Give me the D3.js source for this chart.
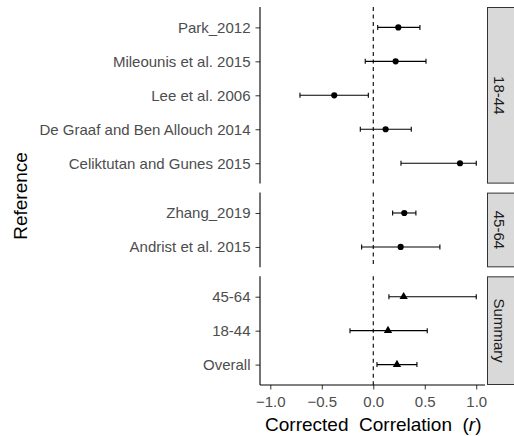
<!DOCTYPE html>
<html>
<head>
<meta charset="utf-8">
<script src="https://cdn.jsdelivr.net/npm/d3@7"></script>
<style>
  body { margin: 0; background: #fff; }
  svg { display: block; font-family: "Liberation Sans", Arial, sans-serif; }
</style>
</head>
<body>
<div id="chart"></div>
<script>
// panels (facet rows), top to bottom
const groups = ['18-44', '45-64', 'Summary'];
const studies = {
  '18-44': ['Park_2012', 'Mileounis et al. 2015', 'Lee et al. 2006', 'De Graaf and Ben Allouch 2014', 'Celiktutan and Gunes 2015'],
  '45-64': ['Zhang_2019', 'Andrist et al. 2015'],
  'Summary': ['45-64', '18-44', 'Overall']
};
const estimates = {
  '18-44': [0.243, 0.217, -0.379, 0.12, 0.842],
  '45-64': [0.301, 0.266],
  'Summary': [0.295, 0.143, 0.23]
};
const lower = {
  '18-44': [0.043, -0.078, -0.712, -0.126, 0.269],
  '45-64': [0.188, -0.113],
  'Summary': [0.152, -0.226, 0.036]
};
const upper = {
  '18-44': [0.453, 0.512, -0.048, 0.369, 1.0],
  '45-64': [0.414, 0.647],
  'Summary': [1.0, 0.524, 0.424]
};
const xTicks = [-1.0, -0.5, 0.0, 0.5, 1.0];

const W = 514, H = 436;
const M = { t: 7, r: 29, b: 51, l: 260 };
const gap = 9;
const svg = d3.select('#chart').append('svg').attr('width', W).attr('height', H);

const x = d3.scaleLinear().domain([-1.1, 1.085]).range([M.l, W - M.r]);
const pad = 0.6;
const units = groups.map(g => studies[g].length - 1 + 2 * pad);
const unitPx = (H - M.t - M.b - gap * (groups.length - 1)) / d3.sum(units);

let py = M.t;
groups.forEach((g, gi) => {
  const h = units[gi] * unitPx;
  const y = d3.scalePoint().domain(studies[g]).range([py, py + h]).padding(pad);
  const rows = studies[g].map((s, i) => ({ s, est: estimates[g][i], lo: lower[g][i], hi: upper[g][i] }));
  const pg = svg.append('g');

  // zero reference line
  pg.append('line').attr('x1', x(0)).attr('x2', x(0)).attr('y1', py).attr('y2', py + h)
    .attr('stroke', '#000').attr('stroke-width', 1.1).attr('stroke-dasharray', '4,3.5');

  // error bars
  const eb = pg.append('g').attr('stroke', '#000').attr('stroke-width', 1.1);
  eb.selectAll('.h').data(rows).enter().append('line')
    .attr('x1', d => x(d.lo)).attr('x2', d => x(d.hi)).attr('y1', d => y(d.s)).attr('y2', d => y(d.s));
  ['lo', 'hi'].forEach(k => {
    eb.selectAll('.c' + k).data(rows).enter().append('line')
      .attr('x1', d => x(d[k])).attr('x2', d => x(d[k])).attr('y1', d => y(d.s) - 2.5).attr('y2', d => y(d.s) + 2.5);
  });

  // points: circles for studies, triangles for summary
  const sym = d3.symbol().type(g === 'Summary' ? d3.symbolTriangle : d3.symbolCircle).size(g === 'Summary' ? 30 : 30);
  pg.selectAll('path.pt').data(rows).enter().append('path')
    .attr('transform', d => `translate(${x(d.est)},${y(d.s)})`).attr('d', sym).attr('fill', '#000');

  // y axis
  const ax = pg.append('g').attr('transform', `translate(${M.l},0)`)
    .call(d3.axisLeft(y).tickSize(4.5).tickPadding(5));
  ax.select('.domain').remove();
  ax.selectAll('.tick line').attr('stroke', '#333');
  ax.selectAll('.tick text').attr('fill', '#4D4D4D').style('font-size', '15px');
  pg.append('line').attr('x1', M.l).attr('x2', M.l).attr('y1', py).attr('y2', py + h)
    .attr('stroke', '#000').attr('stroke-width', 1.1);

  // strip
  const sx = W - M.r + 2;
  pg.append('rect').attr('x', sx + 0.5).attr('y', py + 0.5).attr('width', W - sx + 5).attr('height', h - 1)
    .attr('fill', '#D9D9D9').attr('stroke', '#333').attr('stroke-width', 1);
  pg.append('text').attr('transform', `translate(${sx + 12},${py + h / 2}) rotate(90)`)
    .attr('text-anchor', 'middle').attr('dominant-baseline', 'central')
    .attr('fill', '#1A1A1A').style('font-size', '15px').text(g);

  py += h + gap;
});

// x axis on bottom panel
const bottom = H - M.b;
const xa = svg.append('g').attr('transform', `translate(0,${bottom})`)
  .call(d3.axisBottom(x).tickValues(xTicks).tickFormat(d3.format('.1f')).tickSize(4.5).tickPadding(7));
xa.select('.domain').remove();
xa.selectAll('.tick line').attr('stroke', '#333');
xa.selectAll('.tick text').attr('fill', '#4D4D4D').style('font-size', '15px');
svg.append('line').attr('x1', M.l).attr('x2', W - M.r).attr('y1', bottom).attr('y2', bottom)
  .attr('stroke', '#000').attr('stroke-width', 1.1);

// axis titles
const xt = svg.append('text').attr('x', x(0)).attr('y', 431).attr('text-anchor', 'middle')
  .attr('fill', '#000').style('font-size', '19px').attr('xml:space', 'preserve');
xt.append('tspan').text('Corrected  Correlation  (');
xt.append('tspan').style('font-style', 'italic').text('r');
xt.append('tspan').text(')');

svg.append('text').attr('transform', `translate(27,${(M.t + bottom) / 2}) rotate(-90)`)
  .attr('text-anchor', 'middle').attr('fill', '#000').style('font-size', '19px').text('Reference');
</script>
</body>
</html>
